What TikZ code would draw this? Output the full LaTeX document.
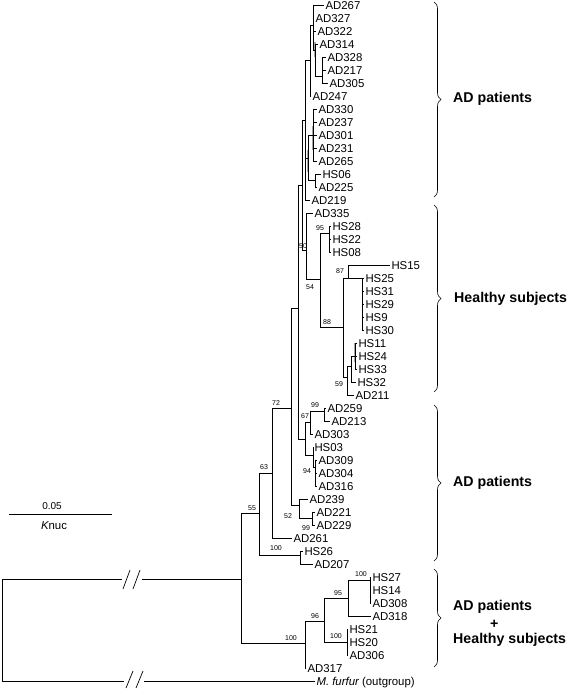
\documentclass[tikz,border=0pt]{standalone}
\usepackage{fontspec}
\setmainfont{Liberation Sans}
\usetikzlibrary{decorations.pathreplacing}
\begin{document}
\begin{tikzpicture}[x=1pt,y=-1pt]
\tikzset{
 edge/.style={line width=0.7pt},
 greybar/.style={line width=1.8pt, gray!70},
 lab/.style={anchor=west, inner xsep=1.3pt, inner ysep=0pt, text height=8.2pt, text depth=0pt, font=\fontsize{11.4}{12}\selectfont},
 bs/.style={inner sep=0pt, font=\fontsize{7}{8}\selectfont},
 grp/.style={anchor=west, inner sep=0pt, font=\bfseries\fontsize{14.2}{16}\selectfont},
 brc/.style={decorate, decoration={brace, amplitude=7pt}, line width=0.6pt},
}
\useasboundingbox (0,0) rectangle (570,690);
% ---------- leaves ----------
\node[lab] (AD267) at (324,5) {AD267};
\node[lab] (AD327) at (314,18) {AD327};
\node[lab] (AD322) at (316,31) {AD322};
\node[lab] (AD314) at (318,44) {AD314};
\node[lab] (AD328) at (326,57) {AD328};
\node[lab] (AD217) at (326,70) {AD217};
\node[lab] (AD305) at (328,83) {AD305};
\node[lab] (AD247) at (311,96) {AD247};
\node[lab] (AD330) at (317,109) {AD330};
\node[lab] (AD237) at (317,122) {AD237};
\node[lab] (AD301) at (317,135) {AD301};
\node[lab] (AD231) at (317,148) {AD231};
\node[lab] (AD265) at (317,161) {AD265};
\node[lab] (HS06) at (321,174) {HS06};
\node[lab] (AD225) at (317,187) {AD225};
\node[lab] (AD219) at (310,200) {AD219};
\node[lab] (AD335) at (313,213) {AD335};
\node[lab] (HS28) at (331,226) {HS28};
\node[lab] (HS22) at (331,239) {HS22};
\node[lab] (HS08) at (331,252) {HS08};
\node[lab] (HS15) at (390,265) {HS15};
\node[lab] (HS25) at (364,278) {HS25};
\node[lab] (HS31) at (364,291) {HS31};
\node[lab] (HS29) at (364,304) {HS29};
\node[lab] (HS9) at (364,317) {HS9};
\node[lab] (HS30) at (364,330) {HS30};
\node[lab] (HS11) at (357,343) {HS11};
\node[lab] (HS24) at (357,356) {HS24};
\node[lab] (HS33) at (357,369) {HS33};
\node[lab] (HS32) at (356,382) {HS32};
\node[lab] (AD211) at (354,395) {AD211};
\node[lab] (AD259) at (326,408) {AD259};
\node[lab] (AD213) at (330,421) {AD213};
\node[lab] (AD303) at (313,434) {AD303};
\node[lab] (HS03) at (313,447) {HS03};
\node[lab] (AD309) at (317,460) {AD309};
\node[lab] (AD304) at (317,473) {AD304};
\node[lab] (AD316) at (317,486) {AD316};
\node[lab] (AD239) at (308,499) {AD239};
\node[lab] (AD221) at (315,512) {AD221};
\node[lab] (AD229) at (315,525) {AD229};
\node[lab] (AD261) at (292,538) {AD261};
\node[lab] (HS26) at (303,551) {HS26};
\node[lab] (AD207) at (313,564) {AD207};
\node[lab] (HS27) at (371,577) {HS27};
\node[lab] (HS14) at (371,590) {HS14};
\node[lab] (AD308) at (371,603) {AD308};
\node[lab] (AD318) at (371,616) {AD318};
\node[lab] (HS21) at (348,629) {HS21};
\node[lab] (HS20) at (348,642) {HS20};
\node[lab] (AD306) at (348,655) {AD306};
\node[lab] (AD317) at (306,668) {AD317};
\node[lab] (MF) at (315,681) {\itshape M. furfur\upshape{} (outgroup)};
% ---------- internal nodes ----------
\coordinate (R) at (2,630);
\coordinate (IN) at (241,579);
\coordinate (N100b) at (305,643);
\coordinate (N96) at (324,621);
\coordinate (N95) at (348,598);
\coordinate (N100c) at (370,580);
\coordinate (N100d) at (347,642);
\coordinate (N55) at (259,513);
\coordinate (NHS26) at (300,555);
\coordinate (N63) at (272,473);
\coordinate (N72) at (291,408);
\coordinate (LOW) at (299,505);
\coordinate (N52) at (312,518);
\coordinate (UP) at (298,308);
\coordinate (M) at (305,439);
\coordinate (N67) at (310,422);
\coordinate (N99a) at (324,411);
\coordinate (NHS03) at (313,455);
\coordinate (N94) at (315,467);
\coordinate (TOPc) at (302,185);
\coordinate (H) at (306,250);
\coordinate (N54) at (320,279);
\coordinate (N95h) at (329,233);
\coordinate (N88) at (343,327);
\coordinate (N87) at (348,278);
\coordinate (NHS25) at (362,278);
\coordinate (N59) at (347,377);
\coordinate (Nsub) at (351,366);
\coordinate (Nsub2) at (355,356);
\coordinate (T) at (305,120);
\coordinate (Q) at (310,60);
\coordinate (P1) at (313,25);
\coordinate (P4) at (315,50);
\coordinate (P3) at (322,76);
\coordinate (S) at (308,158);
\coordinate (R1) at (313,135);
\coordinate (R3) at (315,180);
% grey short-branch bars
\draw[greybar] (315,42) -- (315,57);
\draw[greybar] (313,126) -- (313,150);
\draw[greybar] (308,150) -- (308,172);
\draw[greybar] (355,343) -- (355,362);
% ---------- edges ----------
\draw[edge] (R) |- (IN);
\draw[edge] (R) |- (MF.west);
\draw[edge] (IN) |- (N55);
\draw[edge] (IN) |- (N100b);
\draw[edge] (N100b) |- (N96);
\draw[edge] (N100b) |- (AD317.west);
\draw[edge] (N96) |- (N95);
\draw[edge] (N96) |- (N100d);
\draw[edge] (N95) |- (N100c);
\draw[edge] (N95) |- (AD318.west);
\draw[edge] (N100c) |- (HS27.west);
\draw[edge] (N100c) |- (HS14.west);
\draw[edge] (N100c) |- (AD308.west);
\draw[edge] (N100d) |- (HS21.west);
\draw[edge] (N100d) |- (HS20.west);
\draw[edge] (N100d) |- (AD306.west);
\draw[edge] (N55) |- (N63);
\draw[edge] (N55) |- (NHS26);
\draw[edge] (NHS26) |- (HS26.west);
\draw[edge] (NHS26) |- (AD207.west);
\draw[edge] (N63) |- (N72);
\draw[edge] (N63) |- (AD261.west);
\draw[edge] (N72) |- (UP);
\draw[edge] (N72) |- (LOW);
\draw[edge] (LOW) |- (AD239.west);
\draw[edge] (LOW) |- (N52);
\draw[edge] (N52) |- (AD221.west);
\draw[edge] (N52) |- (AD229.west);
\draw[edge] (UP) |- (TOPc);
\draw[edge] (UP) |- (M);
\draw[edge] (M) |- (N67);
\draw[edge] (M) |- (NHS03);
\draw[edge] (N67) |- (N99a);
\draw[edge] (N67) |- (AD303.west);
\draw[edge] (N99a) |- (AD259.west);
\draw[edge] (N99a) |- (AD213.west);
\draw[edge] (NHS03) |- (HS03.west);
\draw[edge] (NHS03) |- (N94);
\draw[edge] (N94) |- (AD309.west);
\draw[edge] (N94) |- (AD304.west);
\draw[edge] (N94) |- (AD316.west);
\draw[edge] (TOPc) |- (T);
\draw[edge] (TOPc) |- (H);
\draw[edge] (H) |- (AD335.west);
\draw[edge] (H) |- (N54);
\draw[edge] (N54) |- (N95h);
\draw[edge] (N54) |- (N88);
\draw[edge] (N95h) |- (HS28.west);
\draw[edge] (N95h) |- (HS22.west);
\draw[edge] (N95h) |- (HS08.west);
\draw[edge] (N88) |- (N87);
\draw[edge] (N88) |- (N59);
\draw[edge] (N87) |- (HS15.west);
\draw[edge] (N87) |- (NHS25);
\draw[edge] (NHS25) |- (HS25.west);
\draw[edge] (NHS25) |- (HS31.west);
\draw[edge] (NHS25) |- (HS29.west);
\draw[edge] (NHS25) |- (HS9.west);
\draw[edge] (NHS25) |- (HS30.west);
\draw[edge] (N59) |- (Nsub);
\draw[edge] (N59) |- (AD211.west);
\draw[edge] (Nsub) |- (Nsub2);
\draw[edge] (Nsub) |- (HS32.west);
\draw[edge] (Nsub2) |- (HS11.west);
\draw[edge] (Nsub2) |- (HS24.west);
\draw[edge] (Nsub2) |- (HS33.west);
\draw[edge] (T) |- (Q);
\draw[edge] (T) |- (S);
\draw[edge] (T) |- (AD219.west);
\draw[edge] (Q) |- (P1);
\draw[edge] (Q) |- (AD247.west);
\draw[edge] (P1) |- (AD267.west);
\draw[edge] (P1) |- (AD327.west);
\draw[edge] (P1) |- (AD322.west);
\draw[edge] (P1) |- (P4);
\draw[edge] (P4) |- (AD314.west);
\draw[edge] (P4) |- (P3);
\draw[edge] (P3) |- (AD328.west);
\draw[edge] (P3) |- (AD217.west);
\draw[edge] (P3) |- (AD305.west);
\draw[edge] (S) |- (R1);
\draw[edge] (S) |- (R3);
\draw[edge] (R1) |- (AD330.west);
\draw[edge] (R1) |- (AD237.west);
\draw[edge] (R1) |- (AD301.west);
\draw[edge] (R1) |- (AD231.west);
\draw[edge] (R1) |- (AD265.west);
\draw[edge] (R3) |- (HS06.west);
\draw[edge] (R3) |- (AD225.west);
% ---------- breaks // ----------
\fill[white] (122,574) rectangle (142,584);
\fill[white] (124,676) rectangle (144,686);
\draw[edge] (123,589) -- (130,570);
\draw[edge] (133,589) -- (140,570);
\draw[edge] (126,688) -- (133,671);
\draw[edge] (136,688) -- (143,671);
% ---------- bootstrap values ----------
\node[bs] (b96) at (315,616) {96};
\node[bs] (b95) at (338,593) {95};
\node[bs] (b100c) at (361,574) {100};
\node[bs] (b100d) at (336,636) {100};
\node[bs] (b100b) at (291,638) {100};
\node[bs] (b55) at (252,508) {55};
\node[bs] (b100h) at (276,548) {100};
\node[bs] (b63) at (264,467) {63};
\node[bs] (b72) at (276,403) {72};
\node[bs] (b52) at (288,516) {52};
\node[bs] (b99b) at (306,528) {99};
\node[bs] (b94) at (307,471) {94};
\node[bs] (b67) at (305,416) {67};
\node[bs] (b99a) at (315,405) {99};
\node[bs] (b59) at (339,384) {59};
\node[bs] (b88) at (327,322) {88};
\node[bs] (b87) at (340,271) {87};
\node[bs] (b54) at (310,287) {54};
\node[bs] (b95h) at (320,228) {95};
\node[bs] (b50) at (303,246) {50};
% ---------- scale bar ----------
\coordinate (sbL) at (9,514);
\coordinate (sbR) at (112,514);
\draw[edge] (sbL) -- (sbR);
\node[inner sep=0pt, font=\fontsize{10}{11}\selectfont] (sbt) at (52,506) {0.05};
\node[inner sep=0pt, font=\fontsize{11.4}{12}\selectfont] (sbk) at (54,526) {\itshape K\upshape nuc};
% ---------- braces and group labels ----------
\draw[brc] (434,2) -- (434,197);
\draw[brc] (434,205) -- (434,392);
\draw[brc] (434,405) -- (434,561);
\draw[brc] (434,569) -- (434,667);
\node[grp] (g1) at (453,99) {AD patients};
\node[grp] (g2) at (454,299) {Healthy subjects};
\node[grp] (g3) at (453,483) {AD patients};
\node[grp] (g4a) at (453,607) {AD patients};
\node[grp] (g4b) at (490,624) {+};
\node[grp] (g4c) at (453,640) {Healthy subjects};
\end{tikzpicture}
\end{document}
